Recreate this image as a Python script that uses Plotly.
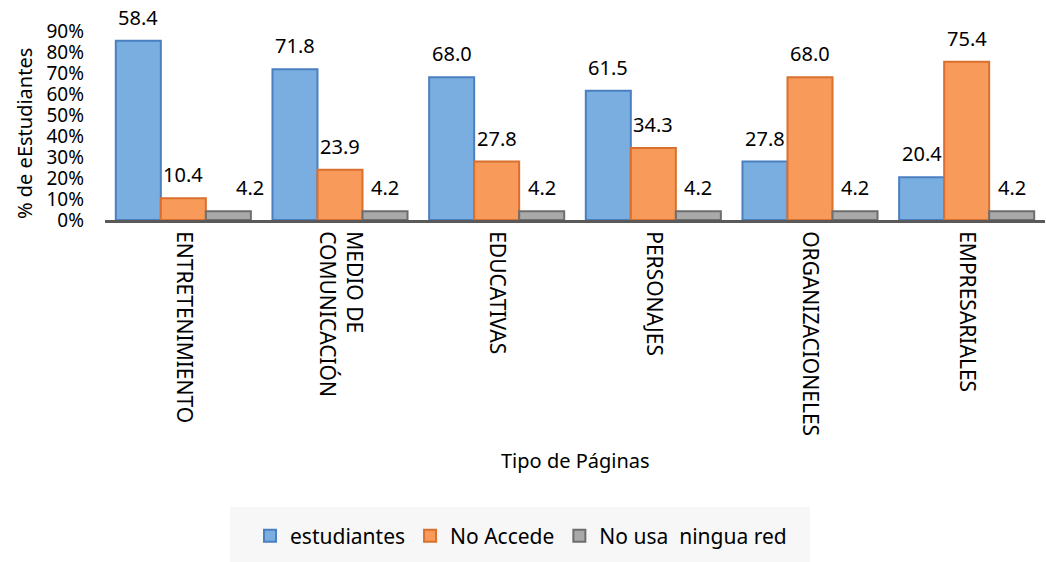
import plotly.graph_objects as go

categorias = ["ENTRETENIMIENTO", "MEDIO DE<br>COMUNICACIÓN", "EDUCATIVAS",
              "PERSONAJES", "ORGANIZACIONELES", "EMPRESARIALES"]
estudiantes = [85.4, 71.8, 68.0, 61.5, 27.8, 20.4]
etiquetas_estudiantes = ["58.4", "71.8", "68.0", "61.5", "27.8", "20.4"]
no_accede = [10.4, 23.9, 27.8, 34.3, 68.0, 75.4]
no_usa = [4.2, 4.2, 4.2, 4.2, 4.2, 4.2]
y_ticks = [0, 10, 20, 30, 40, 50, 60, 70, 80, 90]
y_tick_labels = ["0%", "10%", "20%", "30%", "40%", "50%", "60%", "70%", "80%", "90%"]

FONT = "Noto Sans"
W, H = 1046, 562
L, R, T, B = 105, 1, 31, 342
PW, PH = W - L - R, H - T - B

def px_x(p):
    return (p - L) / PW

def px_y(p):
    return (H - B - p) / PH

series = [
    ("estudiantes", estudiantes, etiquetas_estudiantes, "#7aaee0", "#4a7fc0"),
    ("No Accede", no_accede, [f"{v:.1f}" for v in no_accede], "#f79a5a", "#d9702e"),
    ("No usa\u00a0\u00a0ningua red", no_usa, [f"{v:.1f}" for v in no_usa], "#a9a9a9", "#6e6e6e"),
]

fig = go.Figure()
for name, vals, _, fill, line in series:
    fig.add_trace(go.Bar(
        x=categorias, y=vals, name=name,
        marker=dict(color=fill, line=dict(color=line, width=2)),
        hoverinfo="skip",
    ))

bargap = 0.138
bw = (1 - bargap) / 3
for j, (name, vals, labels, _, _) in enumerate(series):
    for i, (v, lab) in enumerate(zip(vals, labels)):
        xshift = 22 if (j == 2 and i == 0) else 0
        fig.add_annotation(
            x=i + (j - 1) * bw, y=v, xref="x", yref="y",
            text=lab, showarrow=False, yanchor="bottom", yshift=8, xshift=xshift,
            font=dict(family=FONT, size=20, color="#000000"),
        )

# axis titles
fig.add_annotation(
    x=px_x(24), y=px_y(134), xref="paper", yref="paper",
    text="% de eEstudiantes", textangle=-90, showarrow=False,
    xanchor="center", yanchor="middle",
    font=dict(family=FONT, size=20, color="#000000"),
)
fig.add_annotation(
    x=px_x(575), y=px_y(460), xref="paper", yref="paper",
    text="Tipo de Páginas", showarrow=False,
    xanchor="center", yanchor="middle",
    font=dict(family=FONT, size=20, color="#000000"),
)

# legend background box
fig.add_shape(
    type="rect", xref="paper", yref="paper",
    x0=px_x(230), x1=px_x(810), y0=px_y(562), y1=px_y(507),
    fillcolor="#f7f7f7", line=dict(width=0), layer="below",
)

fig.update_layout(
    width=W, height=H,
    margin=dict(l=L, r=R, t=T, b=B, autoexpand=False),
    paper_bgcolor="white", plot_bgcolor="white",
    barmode="group", bargap=bargap, bargroupgap=0,
    font=dict(family=FONT, size=20, color="#000000"),
    showlegend=True,
    legend=dict(
        orientation="h", x=px_x(521), xanchor="center",
        y=px_y(536), yanchor="middle",
        bgcolor="rgba(0,0,0,0)", font=dict(family=FONT, size=21, color="#000000"),
        itemwidth=30, traceorder="normal",
    ),
    xaxis=dict(
        type="category", showgrid=False, zeroline=False,
        showline=True, linecolor="#595959", linewidth=3,
        tickangle=90, ticks="", ticklabelstandoff=4,
        tickfont=dict(family=FONT, size=21, color="#000000"),
        automargin=False,
    ),
    yaxis=dict(
        range=[0, 90], tickmode="array", tickvals=y_ticks, ticktext=y_tick_labels,
        showgrid=False, zeroline=False, showline=False,
        ticks="", ticklabelstandoff=20,
        tickfont=dict(family=FONT, size=19, color="#000000"),
        automargin=False,
    ),
)

fig.write_html(
    "out.html",
    config={"displayModeBar": False},
    post_script="document.body.style.margin='0';document.body.style.overflow='hidden';",
)
